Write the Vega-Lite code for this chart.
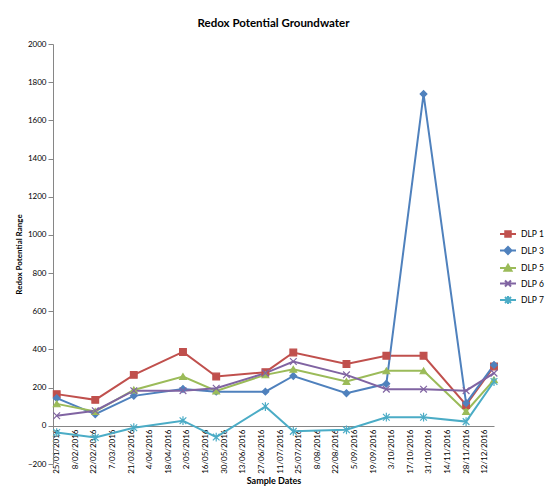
{
  "$schema": "https://vega.github.io/schema/vega-lite/v6.json",
  "autosize": {"type": "none"},
  "padding": {"left": 53, "top": 44, "right": 61, "bottom": 33},
  "width": 441,
  "height": 420,
  "background": "white",
  "title": {
    "text": "Redox Potential Groundwater",
    "font": "Lato",
    "fontSize": 11.5,
    "fontWeight": "bold",
    "color": "#000000",
    "anchor": "middle",
    "offset": 11
  },
  "config": {
    "view": {"stroke": null},
    "font": "Lato",
    "axis": {
      "labelFont": "Lato",
      "titleFont": "Lato",
      "labelColor": "#000000",
      "titleColor": "#000000",
      "domainColor": "#868686",
      "tickColor": "#868686",
      "grid": false
    },
    "legend": {
      "labelFont": "Lato",
      "labelFontSize": 8.5,
      "labelColor": "#000000"
    }
  },
  "data": {
    "values": [
      {"date": "2016-01-25", "series": "DLP 1", "value": 166},
      {"date": "2016-02-23", "series": "DLP 1", "value": 136},
      {"date": "2016-03-23", "series": "DLP 1", "value": 267},
      {"date": "2016-04-29", "series": "DLP 1", "value": 387},
      {"date": "2016-05-24", "series": "DLP 1", "value": 258},
      {"date": "2016-06-30", "series": "DLP 1", "value": 281},
      {"date": "2016-07-21", "series": "DLP 1", "value": 384},
      {"date": "2016-08-30", "series": "DLP 1", "value": 324},
      {"date": "2016-09-29", "series": "DLP 1", "value": 367},
      {"date": "2016-10-27", "series": "DLP 1", "value": 367},
      {"date": "2016-11-28", "series": "DLP 1", "value": 109},
      {"date": "2016-12-19", "series": "DLP 1", "value": 311},

      {"date": "2016-01-25", "series": "DLP 3", "value": 145},
      {"date": "2016-02-23", "series": "DLP 3", "value": 61},
      {"date": "2016-03-23", "series": "DLP 3", "value": 157},
      {"date": "2016-04-29", "series": "DLP 3", "value": 193},
      {"date": "2016-05-24", "series": "DLP 3", "value": 179},
      {"date": "2016-06-30", "series": "DLP 3", "value": 179},
      {"date": "2016-07-21", "series": "DLP 3", "value": 261},
      {"date": "2016-08-30", "series": "DLP 3", "value": 171},
      {"date": "2016-09-29", "series": "DLP 3", "value": 220},
      {"date": "2016-10-27", "series": "DLP 3", "value": 1738},
      {"date": "2016-11-28", "series": "DLP 3", "value": 119},
      {"date": "2016-12-19", "series": "DLP 3", "value": 319},

      {"date": "2016-01-25", "series": "DLP 5", "value": 115},
      {"date": "2016-02-23", "series": "DLP 5", "value": 75},
      {"date": "2016-03-23", "series": "DLP 5", "value": 188},
      {"date": "2016-04-29", "series": "DLP 5", "value": 258},
      {"date": "2016-05-24", "series": "DLP 5", "value": 183},
      {"date": "2016-06-30", "series": "DLP 5", "value": 267},
      {"date": "2016-07-21", "series": "DLP 5", "value": 296},
      {"date": "2016-08-30", "series": "DLP 5", "value": 232},
      {"date": "2016-09-29", "series": "DLP 5", "value": 288},
      {"date": "2016-10-27", "series": "DLP 5", "value": 288},
      {"date": "2016-11-28", "series": "DLP 5", "value": 75},
      {"date": "2016-12-19", "series": "DLP 5", "value": 241},

      {"date": "2016-01-25", "series": "DLP 6", "value": 53},
      {"date": "2016-02-23", "series": "DLP 6", "value": 79},
      {"date": "2016-03-23", "series": "DLP 6", "value": 184},
      {"date": "2016-04-29", "series": "DLP 6", "value": 184},
      {"date": "2016-05-24", "series": "DLP 6", "value": 197},
      {"date": "2016-06-30", "series": "DLP 6", "value": 276},
      {"date": "2016-07-21", "series": "DLP 6", "value": 337},
      {"date": "2016-08-30", "series": "DLP 6", "value": 267},
      {"date": "2016-09-29", "series": "DLP 6", "value": 192},
      {"date": "2016-10-27", "series": "DLP 6", "value": 192},
      {"date": "2016-11-28", "series": "DLP 6", "value": 184},
      {"date": "2016-12-19", "series": "DLP 6", "value": 276},

      {"date": "2016-01-25", "series": "DLP 7", "value": -35},
      {"date": "2016-02-23", "series": "DLP 7", "value": -61},
      {"date": "2016-03-23", "series": "DLP 7", "value": -10},
      {"date": "2016-04-29", "series": "DLP 7", "value": 27},
      {"date": "2016-05-24", "series": "DLP 7", "value": -59},
      {"date": "2016-06-30", "series": "DLP 7", "value": 101},
      {"date": "2016-07-21", "series": "DLP 7", "value": -29},
      {"date": "2016-08-30", "series": "DLP 7", "value": -21},
      {"date": "2016-09-29", "series": "DLP 7", "value": 45},
      {"date": "2016-10-27", "series": "DLP 7", "value": 45},
      {"date": "2016-11-28", "series": "DLP 7", "value": 22},
      {"date": "2016-12-19", "series": "DLP 7", "value": 232}
    ]
  },
  "encoding": {
    "x": {
      "field": "date",
      "type": "temporal",
      "scale": {
        "type": "utc",
        "domain": [
          {"year": 2016, "month": 1, "date": 22, "hours": 5, "utc": true},
          {"year": 2016, "month": 12, "date": 19, "utc": true}
        ]
      },
      "axis": {
        "title": "Sample Dates",
        "titleFontSize": 9,
        "titleFontWeight": "bold",
        "titlePadding": 3,
        "offset": -38,
        "ticks": false,
        "labelAngle": -90,
        "labelFontSize": 8,
        "labelPadding": 3,
        "labelOverlap": false,
        "labelFlush": false,
        "labelExpr": "utcFormat(datum.value, '%-d/%m/%Y')",
        "values": [
          {"year": 2016, "month": 1, "date": 25, "utc": true},
          {"year": 2016, "month": 2, "date": 8, "utc": true},
          {"year": 2016, "month": 2, "date": 22, "utc": true},
          {"year": 2016, "month": 3, "date": 7, "utc": true},
          {"year": 2016, "month": 3, "date": 21, "utc": true},
          {"year": 2016, "month": 4, "date": 4, "utc": true},
          {"year": 2016, "month": 4, "date": 18, "utc": true},
          {"year": 2016, "month": 5, "date": 2, "utc": true},
          {"year": 2016, "month": 5, "date": 16, "utc": true},
          {"year": 2016, "month": 5, "date": 30, "utc": true},
          {"year": 2016, "month": 6, "date": 13, "utc": true},
          {"year": 2016, "month": 6, "date": 27, "utc": true},
          {"year": 2016, "month": 7, "date": 11, "utc": true},
          {"year": 2016, "month": 7, "date": 25, "utc": true},
          {"year": 2016, "month": 8, "date": 8, "utc": true},
          {"year": 2016, "month": 8, "date": 22, "utc": true},
          {"year": 2016, "month": 9, "date": 5, "utc": true},
          {"year": 2016, "month": 9, "date": 19, "utc": true},
          {"year": 2016, "month": 10, "date": 3, "utc": true},
          {"year": 2016, "month": 10, "date": 17, "utc": true},
          {"year": 2016, "month": 10, "date": 31, "utc": true},
          {"year": 2016, "month": 11, "date": 14, "utc": true},
          {"year": 2016, "month": 11, "date": 28, "utc": true},
          {"year": 2016, "month": 12, "date": 12, "utc": true}
        ]
      }
    },
    "y": {
      "field": "value",
      "type": "quantitative",
      "scale": {"domain": [-200, 2000], "nice": false, "zero": false},
      "axis": {
        "title": "Redox Potential Range",
        "titleFontSize": 8,
        "titleFontWeight": "bold",
        "titlePadding": 4,
        "labelFontSize": 8,
        "labelPadding": 2,
        "tickSize": 5,
        "format": "d",
        "values": [-200, 0, 200, 400, 600, 800, 1000, 1200, 1400, 1600, 1800, 2000]
      }
    }
  },
  "layer": [
    {
      "mark": {"type": "line", "strokeWidth": 2},
      "encoding": {
        "color": {
          "field": "series",
          "type": "nominal",
          "scale": {
            "domain": ["DLP 1", "DLP 3", "DLP 5", "DLP 6", "DLP 7"],
            "range": ["#C0504D", "#4F81BD", "#9BBB59", "#8064A2", "#4BACC6"]
          },
          "legend": null
        }
      }
    },
    {
      "mark": {"type": "point", "filled": true, "size": 45, "strokeWidth": 1.2, "opacity": 1},
      "encoding": {
        "fill": {
          "field": "series",
          "type": "nominal",
          "scale": {
            "domain": ["DLP 1", "DLP 3", "DLP 5", "DLP 6", "DLP 7"],
            "range": ["#C0504D", "#4F81BD", "#9BBB59", "#8064A2", "#4BACC6"]
          },
          "legend": null
        },
        "stroke": {
          "field": "series",
          "type": "nominal",
          "scale": {
            "domain": ["DLP 1", "DLP 3", "DLP 5", "DLP 6", "DLP 7"],
            "range": ["#C0504D", "#4F81BD", "#9BBB59", "#8064A2", "#4BACC6"]
          },
          "legend": null
        },
        "shape": {
          "field": "series",
          "type": "nominal",
          "scale": {
            "domain": ["DLP 1", "DLP 3", "DLP 5", "DLP 6", "DLP 7"],
            "range": [
              "square",
              "diamond",
              "triangle-up",
              "M-1,-1L1,1M1,-1L-1,1",
              "M-1,-1L1,1M1,-1L-1,1M0,-1.3V1.3"
            ]
          },
          "legend": null
        }
      }
    },
    {
      "mark": {"type": "point", "filled": true, "size": 100, "strokeWidth": 2, "opacity": 0},
      "encoding": {
        "fill": {
          "field": "series",
          "type": "nominal",
          "scale": {
            "domain": ["DLP 1", "DLP 3", "DLP 5", "DLP 6", "DLP 7"],
            "range": ["#C0504D", "#4F81BD", "#9BBB59", "#8064A2", "#4BACC6"]
          }
        },
        "stroke": {
          "field": "series",
          "type": "nominal",
          "scale": {
            "domain": ["DLP 1", "DLP 3", "DLP 5", "DLP 6", "DLP 7"],
            "range": ["#C0504D", "#4F81BD", "#9BBB59", "#8064A2", "#4BACC6"]
          }
        },
        "shape": {
          "field": "series",
          "type": "nominal",
          "scale": {
            "domain": ["DLP 1", "DLP 3", "DLP 5", "DLP 6", "DLP 7"],
            "range": [
              "M-1.6,0H1.6M-0.55,-0.55H0.55V0.55H-0.55Z",
              "M-1.6,0H1.6M-0.7,0L0,-0.7L0.7,0L0,0.7Z",
              "M-1.6,0H1.6M-0.7,0.55L0,-0.65L0.7,0.55Z",
              "M-1.6,0H1.6M-0.6,-0.6L0.6,0.6M0.6,-0.6L-0.6,0.6",
              "M-1.6,0H1.6M-0.6,-0.6L0.6,0.6M0.6,-0.6L-0.6,0.6M0,-0.8V0.8"
            ]
          },
          "legend": {
            "title": null,
            "orient": "none",
            "legendX": 449,
            "legendY": 184,
            "padding": 0,
            "symbolSize": 100,
            "symbolOpacity": 1,
            "symbolStrokeWidth": 2,
            "rowPadding": 1.5,
            "labelOffset": 7
          }
        }
      }
    }
  ],
  "resolve": {
    "scale": {
      "color": "independent",
      "fill": "independent",
      "stroke": "independent",
      "shape": "independent"
    }
  }
}
